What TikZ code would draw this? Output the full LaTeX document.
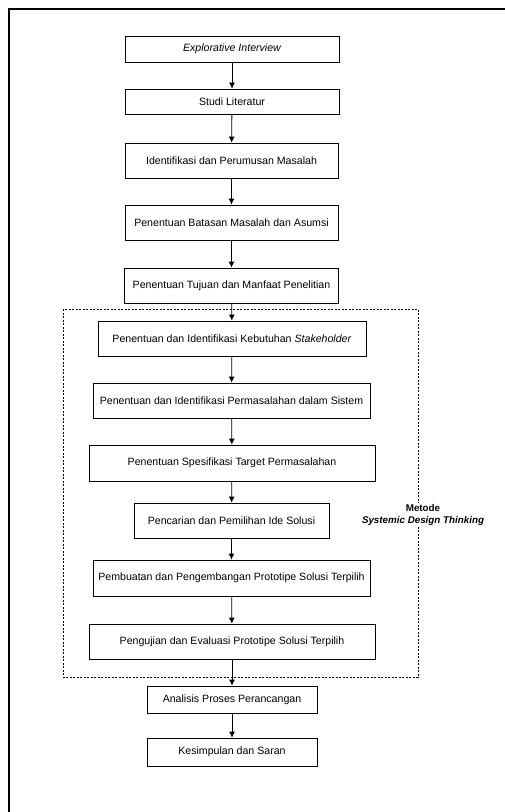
\documentclass[tikz,border=0pt]{standalone}
\usepackage{fontspec}
\setmainfont{Liberation Sans}
\usetikzlibrary{arrows.meta}

\begin{document}
\begin{tikzpicture}[x=1pt,y=-1pt,->,>={Latex[length=6pt,width=6pt]},shorten >=0pt,line width=0.8pt,main node/.style={rectangle,draw,inner sep=0pt,minimum height=35pt,font=\fontsize{10.6}{12}\selectfont}]
  \useasboundingbox (0,0) rectangle (505,812);
  \draw[-,line width=1.2pt] (505,9) -- (9,9) -- (9,812);

  \node[main node,minimum width=214pt,minimum height=26pt] (1) at (232,49) {\itshape Explorative Interview};
  \node[main node,minimum width=214pt,minimum height=25pt] (2) at (232,101.5) {Studi Literatur};
  \node[main node,minimum width=213pt] (3) at (231.5,160.5) {Identifikasi dan Perumusan Masalah};
  \node[main node,minimum width=213pt] (4) at (231.5,222.5) {Penentuan Batasan Masalah dan Asumsi};
  \node[main node,minimum width=214pt] (5) at (231.5,285.5) {Penentuan Tujuan dan Manfaat Penelitian};
  \node[main node,minimum width=268pt] (6) at (232,338.5) {Penentuan dan Identifikasi Kebutuhan \textit{Stakeholder}};
  \node[main node,minimum width=277pt] (7) at (231.5,400.5) {Penentuan dan Identifikasi Permasalahan dalam Sistem};
  \node[main node,minimum width=286pt,minimum height=36pt] (8) at (232,463) {Penentuan Spesifikasi Target Permasalahan};
  \node[main node,minimum width=195pt] (9) at (231.5,520.5) {Pencarian dan Pemilihan Ide Solusi};
  \node[main node,minimum width=277pt,minimum height=36pt] (10) at (231.5,578) {Pembuatan dan Pengembangan Prototipe Solusi Terpilih};
  \node[main node,minimum width=286pt] (11) at (232,641.5) {Pengujian dan Evaluasi Prototipe Solusi Terpilih};
  \node[main node,minimum width=170pt,minimum height=27pt] (12) at (232,699.5) {Analisis Proses Perancangan};
  \node[main node,minimum width=170pt,minimum height=28pt] (13) at (232,752) {Kesimpulan dan Saran};

  % systemic design thinking block
  \draw[-,line width=0.6pt,dash pattern=on 2pt off 1.5pt] (63,309) rectangle (418,677);
  \node[fill=white,inner sep=1pt,align=center,font=\fontsize{9.8}{12}\selectfont\bfseries] (sdt) at (423,515) {Metode\\\textit{Systemic Design Thinking}};

\path
  (1) edge (2)
  (2) edge (3)
  (3) edge (4)
  (4) edge (5)
  (5) edge (6)
  (6) edge (7)
  (7) edge (8)
  (8) edge (9)
  (9) edge (10)
  (10) edge (11)
  (11) edge (12)
  (12) edge (13)
;
\end{tikzpicture}
\end{document}
